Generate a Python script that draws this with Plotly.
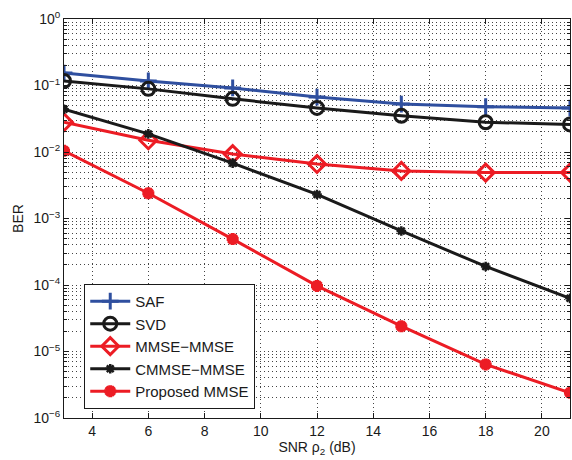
import plotly.graph_objects as go

snr = [3, 6, 9, 12, 15, 18, 21]
saf = [0.154, 0.117, 0.092, 0.067, 0.0525, 0.048, 0.0457]
svd = [0.117, 0.089, 0.063, 0.046, 0.035, 0.028, 0.026]
mmse_mmse = [0.028, 0.015, 0.0093, 0.0066, 0.0052, 0.0049, 0.0049]
cmmse_mmse = [0.044, 0.0187, 0.0068, 0.0023, 6.5e-4, 1.9e-4, 6.3e-5]
proposed = [0.0104, 0.0024, 4.9e-4, 9.7e-5, 2.4e-5, 6.4e-6, 2.4e-6]

x_ticks = [4, 6, 8, 10, 12, 14, 16, 18, 20]
y_exps = [0, -1, -2, -3, -4, -5, -6]

BLUE = "#2f4f9f"
BLACK = "#1a1a1a"
RED = "#ec1c24"

series = [
    ("SAF", saf, BLUE, "cross-thin-open", 12, 3),
    ("SVD", svd, BLACK, "circle-open", 13, 3),
    ("MMSE\u2212MMSE", mmse_mmse, RED, "diamond-open", 13, 3),
    ("CMMSE\u2212MMSE", cmmse_mmse, BLACK, "asterisk-open", 8, 2.5),
    ("Proposed MMSE", proposed, RED, "asterisk-open", 10, 4),
]

fig = go.Figure()
for name, ys, col, sym, size, lw in series:
    fig.add_trace(go.Scatter(
        x=snr, y=ys, name=name, mode="lines+markers",
        line=dict(color=col, width=3),
        marker=dict(symbol=sym, size=size, color=col, line=dict(color=col, width=lw)),
    ))

minor_vals = [k * 10.0 ** e for e in range(-6, 0) for k in range(2, 10)]

fig.update_layout(
    width=572, height=460,
    margin=dict(l=64, r=2, t=19, b=42),
    paper_bgcolor="white", plot_bgcolor="white",
    font=dict(family="Liberation Sans, Arial, sans-serif", size=14, color="#1a1a1a"),
    showlegend=True,
    legend=dict(
        x=0.04, y=0.336, xanchor="left", yanchor="top",
        bgcolor="white", bordercolor="#1a1a1a", borderwidth=1,
        font=dict(size=15), tracegroupgap=0, itemwidth=40,
    ),
    xaxis=dict(
        range=[3, 21], tickvals=x_ticks, ticktext=[str(v) for v in x_ticks],
        showline=True, linecolor="#1a1a1a", linewidth=1, mirror="allticks",
        ticks="inside", ticklen=5, tickcolor="#1a1a1a",
        showgrid=True, gridcolor="#444", griddash="1px,3px", gridwidth=1,
        zeroline=False,
        title=dict(text="SNR \u03c1<sub>2</sub> (dB)", standoff=4, font=dict(size=14)),
    ),
    yaxis=dict(
        type="log", range=[-6, 0],
        tickvals=[10.0 ** e for e in y_exps],
        ticktext=["10<sup>%s</sup>" % (str(e).replace("-", "\u2212")) for e in y_exps],
        showline=True, linecolor="#1a1a1a", linewidth=1, mirror="allticks",
        ticks="inside", ticklen=5, tickcolor="#1a1a1a",
        showgrid=True, gridcolor="#444", griddash="1px,3px", gridwidth=1,
        minor=dict(tickvals=minor_vals, ticks="inside", ticklen=3, tickcolor="#1a1a1a",
                   showgrid=True, gridcolor="#444", griddash="1px,3px", gridwidth=1),
        zeroline=False,
        title=dict(text="BER", standoff=6, font=dict(size=14)),
    ),
)

fig.write_html(
    "out.html",
    config={"displayModeBar": False},
    post_script="document.body.style.margin='0px';document.body.style.overflow='hidden';",
)
